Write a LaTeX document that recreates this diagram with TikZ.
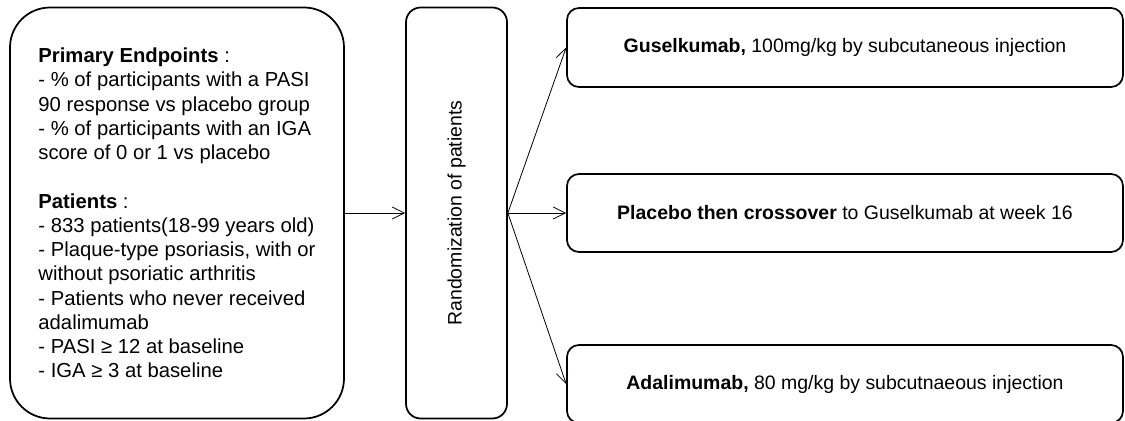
\documentclass[tikz,border=0pt]{standalone}
\usepackage{fontspec}
\setmainfont{Liberation Sans}
\usetikzlibrary{arrows.meta}

\tikzset{
  box/.style={draw, line width=1.3pt, rounded corners=#1, inner sep=0pt,
    font=\fontsize{14.6pt}{17.6pt}\selectfont},
  box/.default=9pt,
  arm/.style={draw, -{Straight Barb[length=9pt,width=9pt]}, line width=0.6pt}
}

\begin{document}
\begin{tikzpicture}[x=0.75pt, y=-0.75pt]
    \useasboundingbox (0,0) rectangle (1125,421);
    \clip (0,0) rectangle (1125,421);
    \begin{scope}
      \def\armwidth{417pt}
      % inclusion criteria
      \node[box=30pt, minimum width=250.5pt, minimum height=308.25pt, align=left,
        font=\fontsize{15.2pt}{18.2pt}\selectfont]
        (crit) at (177,213) {\textbf{Primary Endpoints} :\\
        - \% of participants with a PASI\\
        90 response vs placebo group\\
        - \% of participants with an IGA\\
        score of 0 or 1 vs placebo\\[18.2pt]
        \textbf{Patients} :\\
        - 833 patients(18-99 years old)\\
        - Plaque-type psoriasis, with or\\
        without psoriatic arthritis\\
        - Patients who never received\\
        adalimumab\\
        - PASI ≥ 12 at baseline\\
        - IGA ≥ 3 at baseline};
      % randomization
      \node[box=11pt, minimum width=75.75pt, minimum height=308.25pt] (rand) at (456.5,213) {};
      \node[rotate=90, font=\fontsize{14.6pt}{17.6pt}\selectfont] (randtxt) at (rand.center) {Randomization of patients};
      % arms
      \node[box, minimum width=\armwidth, minimum height=59.25pt] (gus) at (845,47.5)
        {\textbf{Guselkumab,} 100mg/kg by subcutaneous injection};
      \node[box, minimum width=\armwidth, minimum height=58.5pt] (plc) at (845,213)
        {\textbf{Placebo then crossover} to Guselkumab at week 16};
      \node[box, minimum width=\armwidth, minimum height=58.5pt] (ada) at (845,384)
        {\textbf{Adalimumab,} 80 mg/kg by subcutnaeous injection};
      \draw[arm] (crit.east) -- (rand.west);
      \foreach \arm in {gus,plc,ada}
        \draw[arm] (rand.east) -- (\arm.west);
    \end{scope}
  \end{tikzpicture}
\end{document}
